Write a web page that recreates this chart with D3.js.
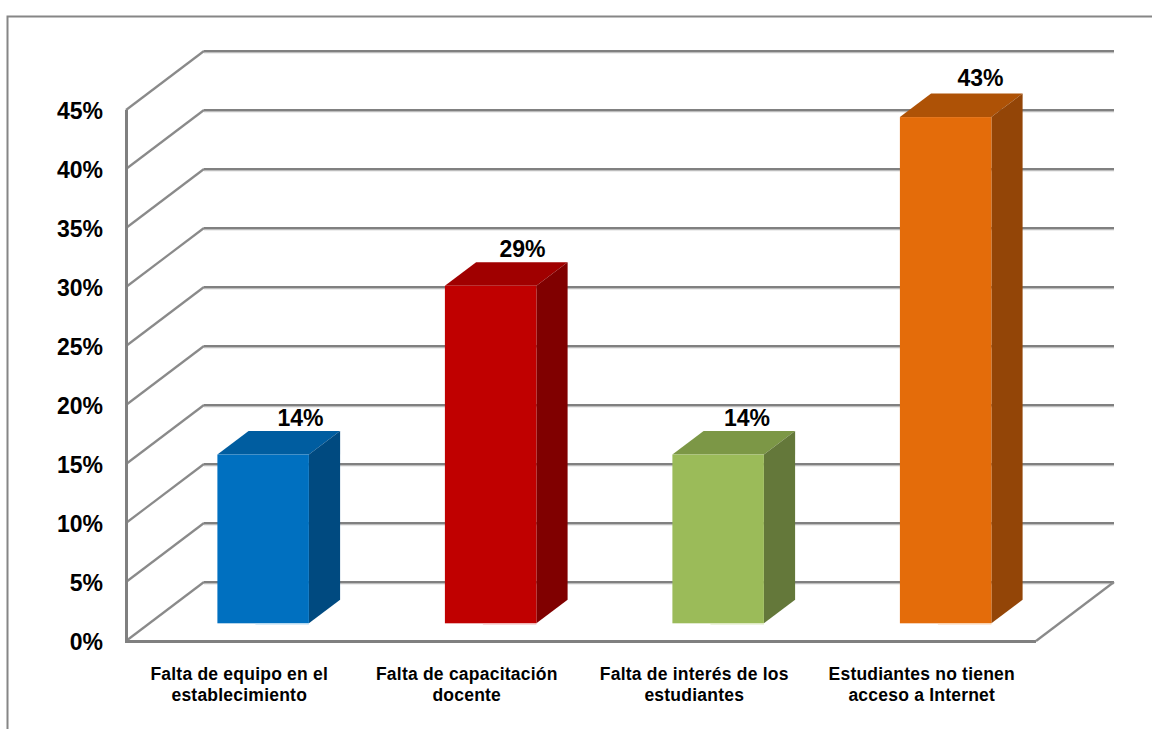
<!DOCTYPE html>
<html><head><meta charset="utf-8">
<script src="https://cdn.jsdelivr.net/npm/d3@7/dist/d3.min.js"></script>
<style>html,body{margin:0;padding:0;background:#fff;overflow:hidden}svg{display:block}
text{font-family:"Liberation Sans",Arial,sans-serif;font-weight:bold;fill:#000}</style>
</head><body><svg id="c" width="1152" height="729"></svg>
<script>
const categories = [
  ["Falta de equipo en el","establecimiento"],
  ["Falta de capacitación","docente"],
  ["Falta de interés de los","estudiantes"],
  ["Estudiantes no tienen","acceso a Internet"]
];
const values = [14.3, 28.6, 14.3, 42.9];
const valueLabels = ["14%","29%","14%","43%"];
const tickValues = [0,5,10,15,20,25,30,35,40,45];
const frontColors = ["#0070C0","#C00000","#9BBB59","#E46C0A"];
const topColors = ["#005DA0","#A00000","#7C9746","#AE5206"];
const sideColors = ["#004A80","#800000","#64783A","#934507"];
const baseColors = ["#B5DAF2","#F2B5B5","#DCE9BE","#FBD2AE"];

const svg = d3.select("#c");
const y = d3.scaleLinear().domain([0,45]).range([641,110]);
const x = d3.scaleBand().domain(d3.range(categories.length)).range([126,1036]);
const DX = 78, DY = -59;               // wall depth
const barW = 91.5;
const off = 0.3, dep = 0.4;            // bar position inside the depth
const labelShiftX = [83, 77.5, 74.5, 80.5];  // hand-placed data labels, as in the reference
const labelShiftY = [5, 5, 5, 7];

// frame
svg.append("path").attr("d","M7.5,729V16.5H1152").attr("fill","none").attr("stroke","#868686").attr("stroke-width",2);

// back wall lines + side wall diagonals
const grid = svg.append("g");
tickValues.forEach(t=>{
  grid.append("line").attr("x1",126+DX).attr("x2",1114).attr("y1",y(t)+DY+1.6).attr("y2",y(t)+DY+1.6).attr("stroke","#bdbdbd").attr("stroke-width",1.2);
  grid.append("line").attr("x1",126+DX).attr("x2",1114).attr("y1",y(t)+DY).attr("y2",y(t)+DY).attr("stroke","#808080").attr("stroke-width",2.2);
  grid.append("line").attr("x1",126).attr("x2",126+DX).attr("y1",y(t)).attr("y2",y(t)+DY).attr("stroke","#8a8a8a").attr("stroke-width",2.2);
});
// front axes and floor
grid.append("line").attr("x1",126.5).attr("x2",126.5).attr("y1",y(45)).attr("y2",y(0)+1).attr("stroke","#808080").attr("stroke-width",3);
grid.append("line").attr("x1",125).attr("x2",1036).attr("y1",y(0)+.5).attr("y2",y(0)+.5).attr("stroke","#808080").attr("stroke-width",3);
grid.append("line").attr("x1",1036).attr("x2",1036+DX).attr("y1",y(0)).attr("y2",y(0)+DY).attr("stroke","#8a8a8a").attr("stroke-width",2.2);

// bars
const bars = svg.append("g").selectAll("g").data(values).join("g");
const pts = a=>a.map(p=>p.join(",")).join(" ");
function geo(d,i){
  const x0 = x(i)+x.bandwidth()/2-barW/2+off*DX, b = y(0)+off*DY, t = y(d)+off*DY;
  return {x0,x1:x0+barW,b,t,dx:dep*DX,dy:dep*DY};
}
bars.append("polygon").attr("fill",(d,i)=>topColors[i]).attr("points",(d,i)=>{const g=geo(d,i);
  return pts([[g.x0,g.t],[g.x0+g.dx,g.t+g.dy],[g.x1+g.dx,g.t+g.dy],[g.x1,g.t]]);});
bars.append("polygon").attr("fill",(d,i)=>sideColors[i]).attr("points",(d,i)=>{const g=geo(d,i);
  return pts([[g.x1,g.t],[g.x1+g.dx,g.t+g.dy],[g.x1+g.dx,g.b+g.dy],[g.x1,g.b]]);});
bars.append("rect").attr("fill",(d,i)=>frontColors[i])
  .attr("x",(d,i)=>geo(d,i).x0).attr("y",(d,i)=>geo(d,i).t)
  .attr("width",barW).attr("height",(d,i)=>geo(d,i).b-geo(d,i).t);
bars.append("line").attr("stroke",(d,i)=>baseColors[i]).attr("stroke-width",1.2)
  .attr("x1",(d,i)=>geo(d,i).x0+38).attr("x2",(d,i)=>geo(d,i).x1)
  .attr("y1",(d,i)=>geo(d,i).b+.5).attr("y2",(d,i)=>geo(d,i).b+.5);
bars.append("text").text((d,i)=>valueLabels[i]).attr("text-anchor","middle").style("font-size","23px")
  .attr("x",(d,i)=>geo(d,i).x0+labelShiftX[i]).attr("y",(d,i)=>geo(d,i).t+geo(d,i).dy-labelShiftY[i]);

// y axis labels
const yAxis = d3.axisLeft(y).tickValues(tickValues).tickFormat(d=>d+"%").tickSize(0).tickPadding(23);
const ya = svg.append("g").attr("transform","translate(126,1)").call(yAxis);
ya.select(".domain").remove();
ya.selectAll("text").style("font-size","23px").style("font-family",'"Liberation Sans",Arial,sans-serif').style("font-weight","bold").attr("fill","#000");

// category labels
const cat = svg.append("g").selectAll("text").data(categories).join("text")
  .attr("text-anchor","middle").style("font-size","17.5px").style("letter-spacing","0.22px")
  .attr("transform",(d,i)=>`translate(${x(i)+x.bandwidth()/2-0.5},0)`);
cat.selectAll("tspan").data(d=>d).join("tspan").attr("x",0).attr("y",(d,j)=>680+j*21).text(d=>d);
</script></body></html>
